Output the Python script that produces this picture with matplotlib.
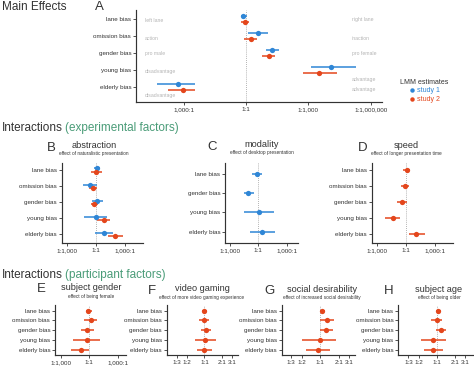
import matplotlib
matplotlib.use('Agg')
import matplotlib.pyplot as plt
from matplotlib.lines import Line2D
import numpy as np

plt.rcParams['font.family'] = ['Liberation Sans', 'DejaVu Sans']

W, H = 474, 368
BLUE = '#2f86d6'
RED = '#e4461c'
GREEN = '#4a9c78'
DARK = '#333333'
LGREY = '#b4b4b4'

rows5 = ['lane bias', 'omission bias', 'gender bias', 'young bias', 'elderly bias']
rows4 = ['lane bias', 'gender bias', 'young bias', 'elderly bias']

# ---- data: log10 odds ratios (estimate, lower, upper) ----
# A: main effects
main_s1_est = [-0.13, 0.60, 1.27, 4.10, -3.27]
main_s1_lo = [-0.25, 0.11, 0.95, 3.12, -4.27]
main_s1_hi = [0.03, 1.08, 1.61, 5.27, -2.46]
main_s2_est = [-0.05, 0.22, 1.11, 3.50, -3.03]
main_s2_lo = [-0.25, -0.08, 0.77, 2.74, -3.75]
main_s2_hi = [0.15, 0.52, 1.40, 4.38, -2.46]
main_left_labels = ['left lane', 'action', 'pro male', 'disadvantage', 'disadvantage']
main_right_labels = ['right lane', 'inaction', 'pro female', 'advantage', 'advantage']

# B: abstraction
abs_s1_est = [0.13, -0.61, 0.07, -0.03, 0.82]
abs_s1_lo = [-0.17, -1.30, -0.44, -1.22, -0.10]
abs_s1_hi = [0.41, 0.07, 0.68, 1.09, 1.70]
abs_s2_est = [-0.03, -0.27, -0.17, 0.82, 1.94]
abs_s2_lo = [-0.54, -0.68, -0.54, 0.13, 1.26]
abs_s2_hi = [0.58, 0.13, 0.24, 1.43, 2.79]

# C: modality (study 1 only)
mod_est = [-0.17, -1.06, 0.07, 0.43]
mod_lo = [-0.70, -1.50, -1.50, -0.88]
mod_hi = [0.36, -0.46, 1.60, 1.78]

# D: speed (study 2 only)
spd_est = [0.07, -0.10, -0.44, -1.36, 1.02]
spd_lo = [-0.34, -0.54, -0.89, -2.14, 0.34]
spd_hi = [0.41, 0.34, 0.07, -0.61, 1.94]

# E: subject gender
sg_est = [-0.10, 0.15, -0.28, -0.28, -0.91]
sg_lo = [-0.38, -0.56, -0.91, -1.70, -1.98]
sg_hi = [0.26, 0.85, 0.50, 1.14, 0.00]

# F: video gaming
vg_est = [0.00, -0.005, 0.03, 0.012, 0.00]
vg_lo = [-0.045, -0.086, -0.057, -0.17, -0.13]
vg_hi = [0.04, 0.08, 0.115, 0.20, 0.14]

# G: social desirability
sd_est = [0.028, 0.11, 0.093, -0.01, -0.04]
sd_lo = [-0.01, 0.00, -0.01, -0.30, -0.23]
sd_hi = [0.08, 0.22, 0.21, 0.26, 0.16]

# H: subject age
sa_est = [0.02, -0.005, 0.067, -0.06, -0.06]
sa_lo = [-0.02, -0.10, -0.02, -0.27, -0.21]
sa_hi = [0.07, 0.09, 0.16, 0.16, 0.10]

ticks_main = [-3, 0, 3, 6]
ticklabels_main = ['1,000:1', '1:1', '1:1,000', '1:1,000,000']
ticks_big = [-3, 0, 3]
ticklabels_big = ['1:1,000', '1:1', '1,000:1']
ratio_small = [1/3, 1/2, 1, 2, 3]
ticks_small = list(np.log10(ratio_small))
ticklabels_small = ['1:3', '1:2', '1:1', '2:1', '3:1']

fig = plt.figure(figsize=(W / 100, H / 100), dpi=100)


def add_ax(l, t, r, b):
    return fig.add_axes([l / W, 1 - b / H, (r - l) / W, (b - t) / H])


def ftext(x, y, s, **kw):
    kw.setdefault('va', 'center')
    return fig.text(x / W, 1 - y / H, s, **kw)


def style(ax, xlim, ylim, xticks, xlabels, ylabels):
    ax.set_xlim(*xlim)
    ax.set_ylim(*ylim)
    ax.set_xticks(xticks)
    ax.set_xticklabels(xlabels)
    ax.set_yticks(range(len(ylabels)))
    ax.set_yticklabels(ylabels)
    for s in ['top', 'right']:
        ax.spines[s].set_visible(False)
    for s in ['left', 'bottom']:
        ax.spines[s].set_linewidth(0.85)
        ax.spines[s].set_color(DARK)
    ax.tick_params(length=2, width=0.6, labelsize=4.5, pad=1.5,
                   colors=DARK)
    ax.axvline(0, color='#9a9a9a', ls=(0, (1, 1.5)), lw=0.6, zorder=0)
    ax.patch.set_alpha(0)


def prange(ax, est, lo, hi, color, dy=0.0, ms=3.8):
    est = np.asarray(est, float)
    lo = np.asarray(lo, float)
    hi = np.asarray(hi, float)
    y = np.arange(len(est)) + dy
    ax.errorbar(est, y, xerr=[est - lo, hi - est], fmt='o', color=color,
                ms=ms, mew=0, elinewidth=1.1, capsize=1.7, capthick=1.0,
                zorder=3)


# ---------------- Panel A ----------------
axA = add_ax(136, 10, 382, 102)
style(axA, (-5.29, 6.54), (4.88, -0.5), ticks_main, ticklabels_main, rows5)
prange(axA, main_s1_est, main_s1_lo, main_s1_hi, BLUE, -0.175)
prange(axA, main_s2_est, main_s2_lo, main_s2_hi, RED, 0.175)

left_y = [20.7, 38.7, 54, 71, 96]
right_y = [20, 39, 53.3, 79, 90]
for s, yy in zip(main_left_labels, left_y):
    ftext(145, yy, s, ha='left', fontsize=3.7, color=LGREY)
for s, yy in zip(main_right_labels, right_y):
    ftext(352, yy, s, ha='left', fontsize=3.7, color=LGREY)

ftext(2, 7, 'Main Effects', ha='left', fontsize=8.5, color=DARK)
ftext(99, 7, 'A', ha='center', fontsize=9.5, color=DARK)

# legend
ftext(400, 83, 'LMM estimates', ha='left', fontsize=5, color=DARK)
handles = [Line2D([], [], marker='o', color=BLUE, ls='', ms=3.2, mew=0),
           Line2D([], [], marker='o', color=RED, ls='', ms=3.2, mew=0)]
axA.legend(handles, ['study 1', 'study 2'], loc='upper left',
           bbox_to_anchor=(407 / W, 1 - 86 / H), bbox_transform=fig.transFigure,
           frameon=False, fontsize=5, labelcolor='linecolor',
           handlelength=1.0, handletextpad=0.3, labelspacing=0.25,
           borderpad=0.2, borderaxespad=0)


def section_heading(y, first, second):
    t1 = ftext(2, y, first, ha='left', fontsize=8.5, color=DARK)
    fig.canvas.draw()
    bb = t1.get_window_extent(renderer=fig.canvas.get_renderer())
    ftext(bb.x1 + 2.5, y, second, ha='left', fontsize=8.5, color=GREEN)


section_heading(128, 'Interactions', '(experimental factors)')
section_heading(275, 'Interactions', '(participant factors)')


def panel_titles(letter, lx, ly, title, tx, ty, sub, sy):
    ftext(lx, ly, letter, ha='center', fontsize=9.5, color=DARK)
    ftext(tx, ty, title, ha='center', fontsize=6.6, color=DARK)
    ftext(tx, sy, sub, ha='center', fontsize=3.4, color=DARK)


# ---------------- Panel B ----------------
axB = add_ax(61.7, 163.3, 143.3, 243)
style(axB, (-3.51, 4.84), (4.53, -0.42), ticks_big, ticklabels_big, rows5)
prange(axB, abs_s1_est, abs_s1_lo, abs_s1_hi, BLUE, -0.1)
prange(axB, abs_s2_est, abs_s2_lo, abs_s2_hi, RED, 0.1)
panel_titles('B', 51, 148.5, 'abstraction', 94, 145,
             'effect of naturalistic presentation', 153)

# ---------------- Panel C ----------------
axC = add_ax(225, 163.3, 298.3, 243)
style(axC, (-3.5, 4.2), (3.6, -0.58), ticks_big, ticklabels_big, rows4)
prange(axC, mod_est, mod_lo, mod_hi, BLUE)
panel_titles('C', 212, 147, 'modality', 262, 144.5,
             'effect of desktop presentation', 152)

# ---------------- Panel D ----------------
axD = add_ax(371.7, 163.3, 453.3, 243)
style(axD, (-3.5, 4.84), (4.53, -0.42), ticks_big, ticklabels_big, rows5)
prange(axD, spd_est, spd_lo, spd_hi, RED)
panel_titles('D', 362.5, 148, 'speed', 406.5, 145.5,
             'effect of longer presentation time', 153)

# ---------------- Panels E-H ----------------
axE = add_ax(55, 305, 126, 355)
style(axE, (-3.64, 3.9), (4.52, -0.58), ticks_big, ticklabels_big, rows5)
prange(axE, sg_est, sg_lo, sg_hi, RED)
panel_titles('E', 41.7, 289, 'subject gender', 91.5, 288,
             'effect of being female', 296.5)

axF = add_ax(166.7, 305, 238, 355)
style(axF, (-0.65, 0.58), (4.52, -0.58), ticks_small, ticklabels_small, rows5)
prange(axF, vg_est, vg_lo, vg_hi, RED)
panel_titles('F', 151.7, 290.5, 'video gaming', 202, 288.5,
             'effect of more video gaming experience', 297)

axG = add_ax(281.7, 305, 355, 355)
style(axG, (-0.63, 0.57), (4.52, -0.58), ticks_small, ticklabels_small, rows5)
prange(axG, sd_est, sd_lo, sd_hi, RED)
panel_titles('G', 269.3, 291.5, 'social desirability', 322, 289,
             'effect of increased social desirability', 297.5)

axH = add_ax(398.3, 305, 474, 355)
style(axH, (-0.645, 0.62), (4.52, -0.58), ticks_small, ticklabels_small, rows5)
prange(axH, sa_est, sa_lo, sa_hi, RED)
panel_titles('H', 389, 291.5, 'subject age', 439, 289,
             'effect of being older', 297.5)

fig.savefig('out.png', dpi=100)
